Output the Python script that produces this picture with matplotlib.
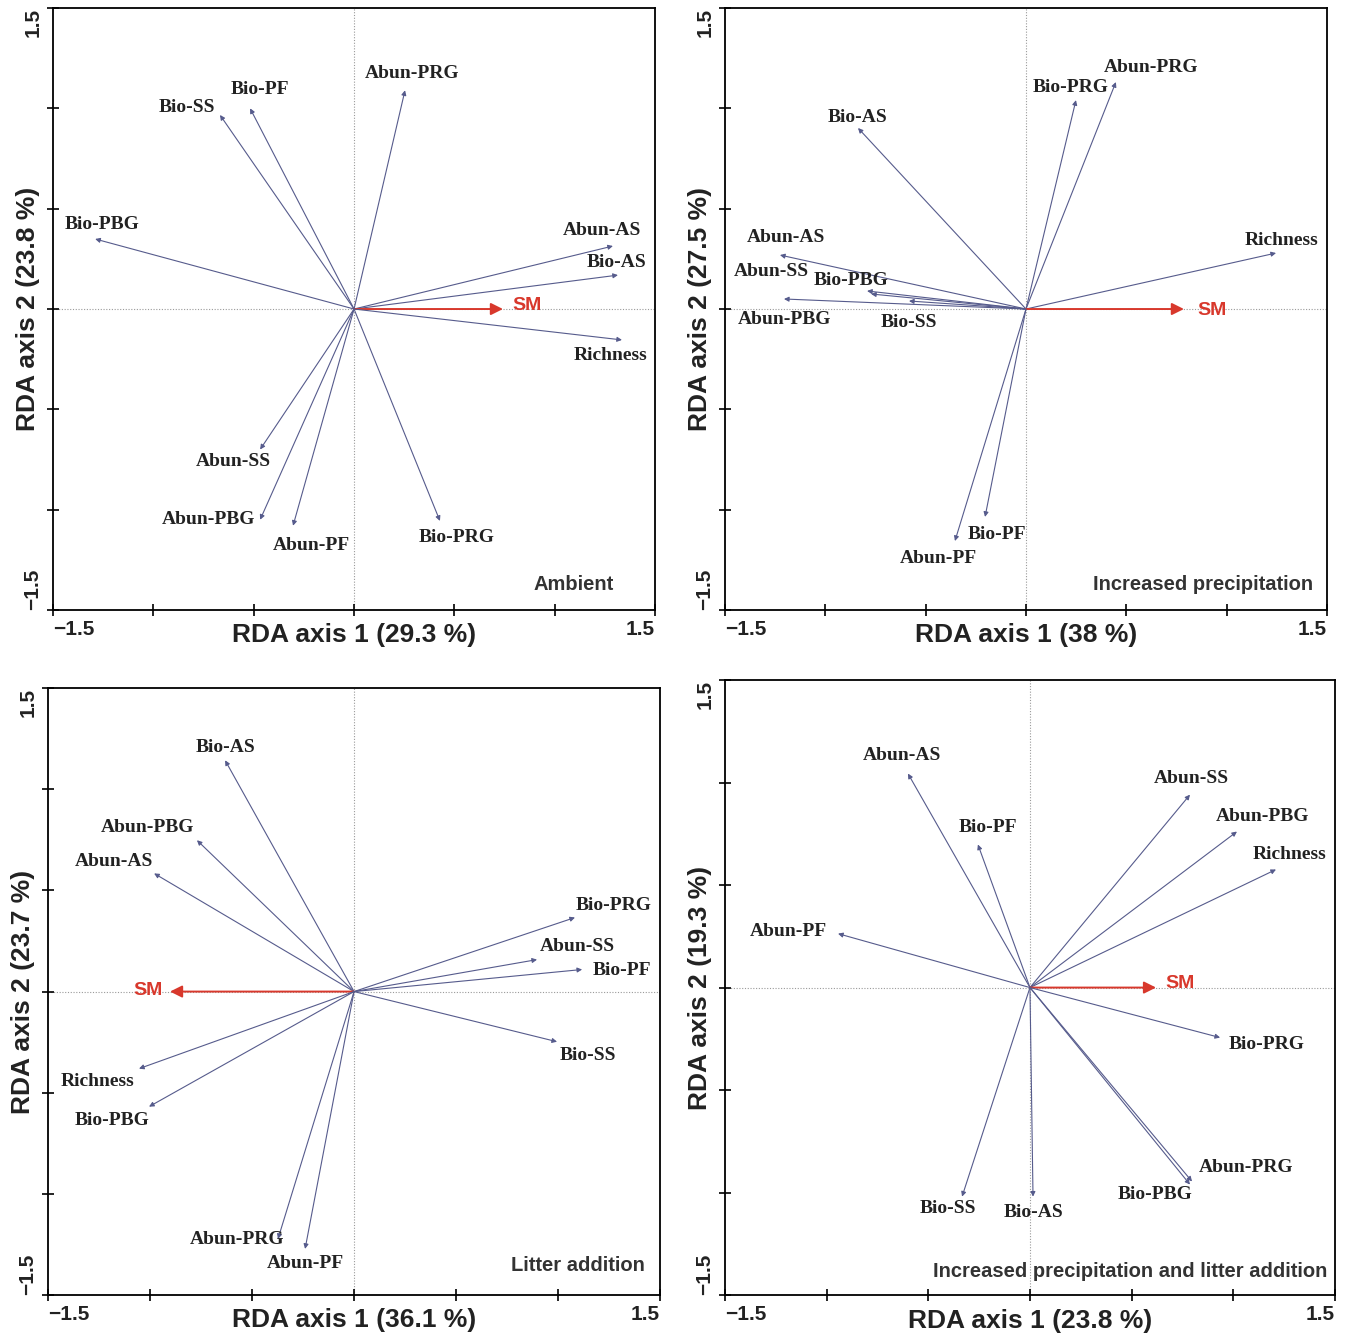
import matplotlib
matplotlib.use("Agg")
import matplotlib.pyplot as plt

plt.rcParams['font.family'] = ['Liberation Sans', 'DejaVu Sans']

# ---- data: RDA biplot arrow tips (axis 1, axis 2) ----
names1 = ['Abun-PRG', 'Bio-PF', 'Bio-SS', 'Bio-PBG', 'Abun-AS', 'Bio-AS',
          'SM', 'Richness', 'Abun-SS', 'Abun-PBG', 'Abun-PF', 'Bio-PRG']
x1 = [0.254, -0.518, -0.668, -1.29, 1.29, 1.315, 0.742, 1.335, -0.468, -0.468, -0.304, 0.428]
y1 = [1.09, 1.00, 0.967, 0.349, 0.314, 0.169, 0.0, -0.154, -0.70, -1.05, -1.08, -1.056]

names2 = ['Abun-PRG', 'Bio-PRG', 'Bio-AS', 'Richness', 'Abun-AS', 'Abun-SS',
          'Bio-PBG', 'Abun-PBG', 'Bio-SS', 'SM', 'Bio-PF', 'Abun-PF']
x2 = [0.448, 0.249, -0.837, 1.246, -1.226, -0.792, -0.772, -1.206, -0.583, 0.787, -0.204, -0.354]
y2 = [1.131, 1.041, 0.902, 0.279, 0.269, 0.09, 0.075, 0.05, 0.04, 0.0, -1.036, -1.156]

names3 = ['Bio-AS', 'Abun-PBG', 'Abun-AS', 'Bio-PRG', 'Abun-SS', 'Bio-PF',
          'SM', 'Bio-SS', 'Richness', 'Bio-PBG', 'Abun-PRG', 'Abun-PF']
x3 = [-0.632, -0.770, -0.98, 1.083, 0.897, 1.118, -0.902, 0.995, -1.054, -1.005, -0.373, -0.24]
y3 = [1.143, 0.748, 0.584, 0.366, 0.158, 0.109, 0.0, -0.248, -0.381, -0.569, -1.223, -1.272]

names4 = ['Abun-AS', 'Abun-SS', 'Bio-PF', 'Abun-PBG', 'Richness', 'Abun-PF',
          'SM', 'Bio-PRG', 'Abun-PRG', 'Bio-PBG', 'Bio-SS', 'Bio-AS']
x4 = [-0.60, 0.787, -0.256, 1.018, 1.21, -0.944, 0.62, 0.935, 0.797, 0.787, -0.334, 0.015]
y4 = [1.044, 0.941, 0.698, 0.761, 0.576, 0.263, 0.0, -0.244, -0.946, -0.961, -1.02, -1.02]

xlabels = ['RDA axis 1 (29.3 %)', 'RDA axis 1 (38 %)', 'RDA axis 1 (36.1 %)', 'RDA axis 1 (23.8 %)']
ylabels = ['RDA axis 2 (23.8 %)', 'RDA axis 2 (27.5 %)', 'RDA axis 2 (23.7 %)', 'RDA axis 2 (19.3 %)']
titles = ['Ambient', 'Increased precipitation', 'Litter addition',
          'Increased precipitation and litter addition']

# label offsets from the arrow tip, in pixels
off1 = [(7, 17), (10, 19), (-33, 7), (7, 14), (-11, 16), (-1, 13), (24, 4),
        (-11, -16), (-27, -12), (-52, 0), (18, -20), (17, -17)]
off2 = [(35, 15), (-5, 13), (0, 11), (5, 13), (6, 18), (-96, 19), (-20, 13),
        (1, -21), (0, -22), (28, -1), (12, -18), (-17, -17)]
off3 = [(0, 13), (-49, 13), (-40, 12), (39, 12), (40, 13), (40, -1), (-22, 1),
        (31, -14), (-41, -13), (-37, -14), (-41, 0), (0, -15)]
off4 = [(-6, 18), (1, 16), (10, 17), (26, 15), (14, 15), (-50, 2), (24, 4),
        (46, -7), (54, 14), (-35, -10), (-14, -12), (1, -16)]

# axes rectangles in figure fraction (left, bottom, width, height)
rects = [(0.0393, 0.5427, 0.4463, 0.4513),
         (0.5374, 0.5427, 0.4463, 0.4513),
         (0.0356, 0.0292, 0.4537, 0.4550),
         (0.5374, 0.0292, 0.4522, 0.4610)]
# treatment caption anchor (right edge, vertical centre) in axes fraction
title_pos = [(0.932, 0.042), (0.977, 0.042), (0.975, 0.048), (0.987, 0.039)]

arrow_col = '#565b8c'
sm_col = '#d8382c'

fig = plt.figure(figsize=(13.49, 13.34), dpi=100)

panels = [(names1, x1, y1, off1), (names2, x2, y2, off2),
          (names3, x3, y3, off3), (names4, x4, y4, off4)]

for i, (names, xs, ys, offs) in enumerate(panels):
    ax = fig.add_axes(rects[i])
    ax.set_xlim(-1.5, 1.5)
    ax.set_ylim(-1.5, 1.5)

    # dotted zero lines
    ax.axhline(0, color='#9a9a9a', lw=0.8, ls=(0, (1, 1.5)), zorder=0)
    ax.axvline(0, color='#9a9a9a', lw=0.8, ls=(0, (1, 1.5)), zorder=0)

    for name, xv, yv, off in zip(names, xs, ys, offs):
        if name == 'SM':
            ax.annotate('', xy=(xv, yv), xytext=(0, 0),
                        arrowprops=dict(arrowstyle='-|>', color=sm_col, lw=1.4,
                                        mutation_scale=18, shrinkA=0, shrinkB=0))
            ax.annotate(name, xy=(xv, yv), xytext=off, textcoords='offset pixels',
                        ha='center', va='center', color=sm_col,
                        fontsize=14, fontweight='bold')
        else:
            ax.annotate('', xy=(xv, yv), xytext=(0, 0),
                        arrowprops=dict(arrowstyle='-|>', color=arrow_col, lw=0.8,
                                        mutation_scale=7, shrinkA=0, shrinkB=0))
            ax.annotate(name, xy=(xv, yv), xytext=off, textcoords='offset pixels',
                        ha='center', va='center', color='#222222',
                        fontsize=14, fontweight='bold', family='Liberation Serif')

    ax.text(title_pos[i][0], title_pos[i][1], titles[i], transform=ax.transAxes,
            ha='right', va='center', fontsize=14.5, fontweight='bold', color='#333333')

    ticks = [-1.5, -1.0, -0.5, 0.0, 0.5, 1.0, 1.5]
    tlabs = ['\u22121.5', '', '', '', '', '', '1.5']
    ax.set_xticks(ticks, tlabs)
    ax.set_yticks(ticks, tlabs)
    ax.tick_params(direction='inout', length=9, width=1.2, labelsize=15, pad=3)
    ax.tick_params(axis='y', labelrotation=90)
    xt = ax.get_xticklabels()
    xt[0].set_ha('left')
    xt[-1].set_ha('right')
    yt = ax.get_yticklabels()
    yt[0].set_va('bottom')
    yt[-1].set_va('top')
    for t in xt + yt:
        t.set_fontweight('bold')
        t.set_color('#222222')

    for s in ax.spines.values():
        s.set_linewidth(1.3)

    ax.set_xlabel(xlabels[i], fontsize=19, fontweight='bold', color='#222222')
    ax.set_ylabel(ylabels[i], fontsize=19, fontweight='bold', color='#222222')
    ax.xaxis.set_label_coords(0.5, -0.022)
    ax.yaxis.set_label_coords(-0.022, 0.5)

fig.savefig('out.png', dpi=100)
